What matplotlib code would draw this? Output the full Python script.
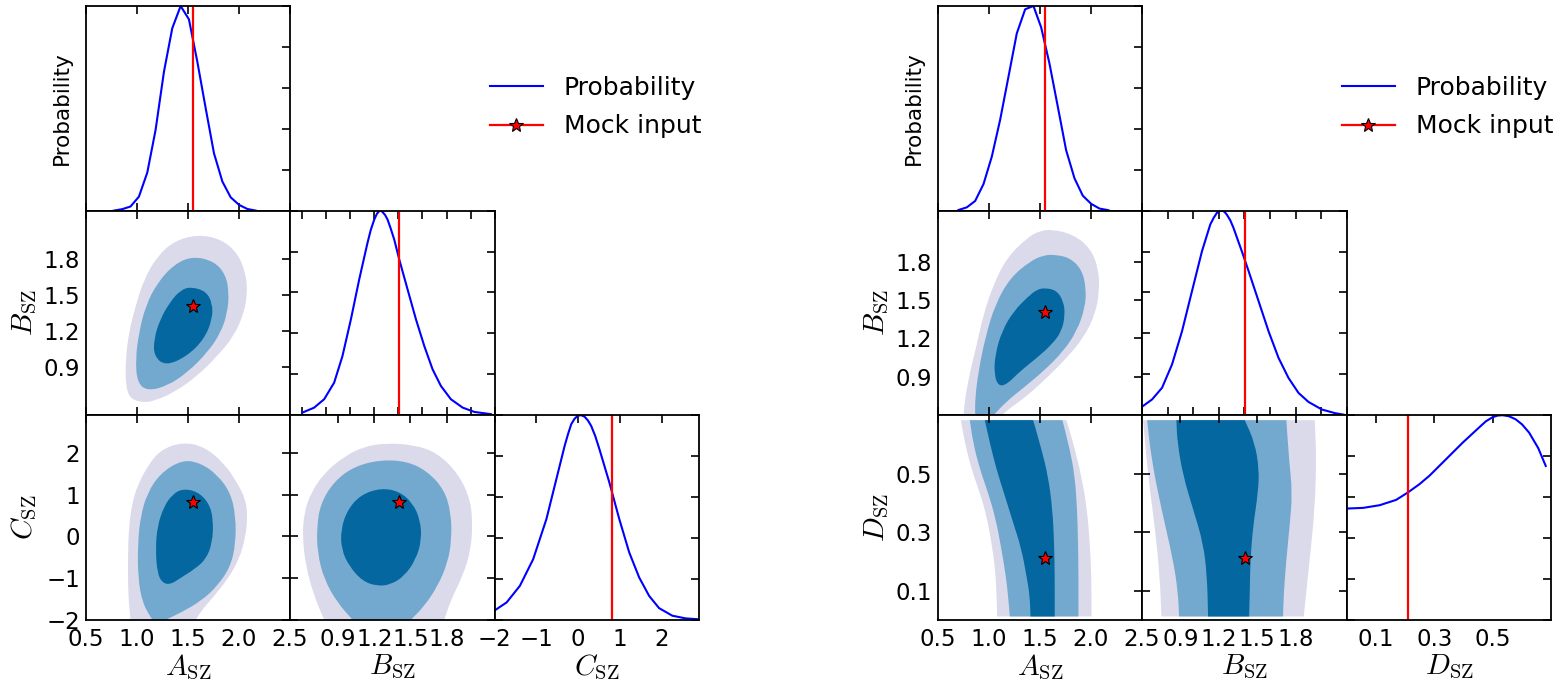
import numpy as np
import matplotlib
matplotlib.use('Agg')
import matplotlib.pyplot as plt
from matplotlib.lines import Line2D
from matplotlib.path import Path
from matplotlib.patches import PathPatch

plt.rcParams['font.family'] = ['DejaVu Sans']
plt.rcParams['mathtext.fontset'] = 'cm'
plt.rcParams['axes.linewidth'] = 1.3

# mock input values
a_true, b_true, c_true, d_true = 1.555, 1.405, 0.81, 0.21

# axis ranges and ticks
a_lim = (0.5, 2.5)
b_lim_left = (0.5, 2.2)
b_lim_right = (0.6, 2.2)
c_lim = (-2.0, 2.9)
d_lim = (0.0, 0.7)
a_ticks = [0.5, 1.0, 1.5, 2.0, 2.5]
b_ticks = [0.9, 1.2, 1.5, 1.8]
b_ticks_1d = [0.6, 0.8, 1.0, 1.2, 1.4, 1.6, 1.8, 2.0, 2.2]
c_ticks = [-2, -1, 0, 1, 2]
d_ticks = [0.1, 0.3, 0.5]
p_ticks = [0.0, 0.2, 0.4, 0.6, 0.8, 1.0]

# 1D marginals (left triangle)
a1l_x = [0.777, 0.859, 0.940, 1.022, 1.104, 1.185, 1.267, 1.348, 1.430, 1.511, 1.593, 1.675,
         1.756, 1.838, 1.919, 2.001, 2.082, 2.164]
a1l_p = [0.0, 0.007, 0.02, 0.068, 0.186, 0.394, 0.679, 0.891, 1.0, 0.935, 0.728, 0.500,
         0.280, 0.142, 0.065, 0.028, 0.008, 0.0]
b1l_x = [0.603, 0.700, 0.783, 0.866, 0.935, 1.005, 1.074, 1.143, 1.170, 1.199, 1.220, 1.240,
         1.255, 1.268, 1.290, 1.310, 1.335, 1.365, 1.407, 1.476, 1.546, 1.615, 1.684, 1.753,
         1.836, 1.934, 2.031, 2.169]
b1l_p = [0.013, 0.037, 0.078, 0.159, 0.289, 0.468, 0.663, 0.842, 0.905, 0.956, 0.983, 0.998,
         1.0, 0.993, 0.978, 0.956, 0.914, 0.859, 0.761, 0.615, 0.468, 0.338, 0.224, 0.143,
         0.078, 0.037, 0.016, 0.005]
c1_x = [-1.992, -1.714, -1.397, -1.079, -0.762, -0.524, -0.325, -0.245, -0.167, -0.090, -0.008,
        0.070, 0.151, 0.230, 0.310, 0.410, 0.508, 0.746, 0.984, 1.222, 1.460, 1.698, 1.937,
        2.254, 2.571, 2.849]
c1_p = [0.047, 0.085, 0.166, 0.296, 0.492, 0.687, 0.850, 0.907, 0.956, 0.982, 0.998,
        1.0, 0.993, 0.975, 0.948, 0.897, 0.834, 0.671, 0.492, 0.329, 0.207, 0.117, 0.057,
        0.020, 0.007, 0.003]

# 1D marginals (right triangle)
a1r_x = [0.705, 0.787, 0.868, 0.950, 1.031, 1.112, 1.194, 1.275, 1.357, 1.438, 1.513, 1.594,
         1.676, 1.757, 1.839, 1.920, 2.002, 2.083, 2.171]
a1r_p = [0.003, 0.016, 0.047, 0.130, 0.264, 0.443, 0.655, 0.866, 0.984, 1.0, 0.896, 0.720,
         0.508, 0.296, 0.158, 0.073, 0.033, 0.010, 0.002]
b1r_x = [0.605, 0.678, 0.756, 0.834, 0.912, 0.990, 1.068, 1.133, 1.160, 1.185, 1.205, 1.224,
         1.243, 1.263, 1.290, 1.315, 1.380, 1.433, 1.511, 1.589, 1.667, 1.745, 1.823, 1.901,
         2.005, 2.109, 2.174]
b1r_p = [0.044, 0.077, 0.134, 0.248, 0.410, 0.606, 0.801, 0.932, 0.965, 0.989, 0.998, 1.0,
         0.995, 0.980, 0.952, 0.915, 0.801, 0.704, 0.557, 0.410, 0.280, 0.182, 0.109, 0.065,
         0.028, 0.010, 0.003]
d1_x = [0.005, 0.056, 0.1125, 0.169, 0.209, 0.249, 0.283, 0.340, 0.397, 0.453, 0.476, 0.499,
        0.516, 0.533, 0.555, 0.578, 0.600, 0.624, 0.655, 0.681]
d1_p = [0.544, 0.547, 0.560, 0.586, 0.622, 0.663, 0.704, 0.785, 0.866, 0.94, 0.970, 0.99,
        0.998, 1.0, 0.995, 0.98, 0.955, 0.915, 0.840, 0.752]

# 2D credible regions (outer, middle, inner), read as outlines
ba_left = [
    [(1.593, 2.001), (1.822, 1.965), (1.985, 1.849), (2.066, 1.683), (2.083, 1.517), (2.050, 1.351),
     (1.952, 1.158), (1.789, 0.992), (1.593, 0.826), (1.365, 0.688), (1.169, 0.619), (1.071, 0.605),
     (0.940, 0.633), (0.892, 0.743), (0.892, 0.964), (0.924, 1.185), (0.989, 1.407), (1.071, 1.628),
     (1.202, 1.821), (1.365, 1.946)],
    [(1.544, 1.821), (1.756, 1.780), (1.870, 1.669), (1.903, 1.517), (1.887, 1.351), (1.822, 1.185),
     (1.691, 1.020), (1.495, 0.854), (1.299, 0.743), (1.104, 0.702), (1.006, 0.771), (0.989, 0.964),
     (1.022, 1.185), (1.087, 1.407), (1.202, 1.600), (1.365, 1.752)],
    [(1.528, 1.567), (1.675, 1.531), (1.740, 1.434), (1.740, 1.296), (1.658, 1.130), (1.495, 0.992),
     (1.283, 0.909), (1.169, 0.992), (1.169, 1.130), (1.228, 1.296), (1.332, 1.448), (1.430, 1.539)],
]
ca_left = [
    [(1.446, 2.255), (1.658, 2.151), (1.854, 1.753), (1.985, 1.275), (2.066, 0.876), (2.083, 0.478),
     (2.066, 0.0), (2.001, -0.558), (1.887, -1.036), (1.756, -1.434), (1.642, -1.753), (1.577, -2.0),
     (0.940, -2.0), (0.918, -1.434), (0.914, -0.558), (0.924, 0.239), (0.957, 0.797), (1.006, 1.195),
     (1.104, 1.673), (1.234, 2.072)],
    [(1.446, 1.833), (1.626, 1.753), (1.789, 1.474), (1.919, 1.036), (1.968, 0.478), (1.968, -0.159),
     (1.919, -0.717), (1.789, -1.195), (1.626, -1.554), (1.430, -1.833), (1.283, -2.0), (1.153, -2.0),
     (1.055, -1.594), (1.012, -0.956), (1.012, -0.159), (1.038, 0.478), (1.104, 1.036), (1.234, 1.514)],
    [(1.446, 1.139), (1.593, 1.076), (1.707, 0.797), (1.750, 0.398), (1.740, -0.159), (1.675, -0.558),
     (1.560, -0.797), (1.430, -0.996), (1.332, -1.155), (1.250, -1.116), (1.202, -0.876), (1.185, -0.319),
     (1.202, 0.239), (1.267, 0.717), (1.348, 0.996)],
]
cb_left = [
    [(1.296, 2.231), (1.532, 2.191), (1.726, 1.992), (1.892, 1.514), (1.989, 0.956), (2.017, 0.398),
     (2.003, -0.319), (1.934, -0.956), (1.837, -1.514), (1.781, -2.0), (0.783, -2.0), (0.700, -1.434),
     (0.630, -0.717), (0.603, 0.0), (0.616, 0.558), (0.672, 1.036), (0.783, 1.514), (0.949, 1.912),
     (1.116, 2.151)],
    [(1.254, 1.833), (1.476, 1.793), (1.642, 1.554), (1.781, 1.116), (1.837, 0.558), (1.842, -0.080),
     (1.809, -0.637), (1.726, -1.195), (1.615, -1.673), (1.504, -2.0), (1.019, -2.0), (0.894, -1.594),
     (0.783, -1.036), (0.727, -0.398), (0.722, 0.239), (0.755, 0.797), (0.866, 1.315), (1.032, 1.673)],
    [(1.254, 1.155), (1.407, 1.076), (1.518, 0.797), (1.581, 0.398), (1.593, -0.080), (1.545, -0.558),
     (1.448, -0.956), (1.337, -1.155), (1.227, -1.195), (1.102, -1.076), (0.991, -0.717), (0.927, -0.319),
     (0.921, 0.159), (0.977, 0.637), (1.088, 0.996)],
]
ba_right = [
    [(1.633, 2.052), (1.829, 2.012), (1.992, 1.908), (2.073, 1.752), (2.083, 1.569), (2.041, 1.387),
     (1.927, 1.205), (1.764, 1.048), (1.568, 0.892), (1.373, 0.749), (1.210, 0.657), (1.129, 0.6),
     (0.754, 0.6), (0.770, 0.736), (0.819, 0.944), (0.884, 1.152), (0.949, 1.387), (1.047, 1.622),
     (1.177, 1.830), (1.373, 1.986), (1.503, 2.044)],
    [(1.650, 1.856), (1.796, 1.830), (1.910, 1.739), (1.953, 1.596), (1.943, 1.439), (1.861, 1.257),
     (1.731, 1.100), (1.536, 0.944), (1.340, 0.814), (1.177, 0.709), (1.047, 0.6), (0.868, 0.6),
     (0.868, 0.736), (0.901, 0.944), (0.966, 1.205), (1.063, 1.465), (1.210, 1.674), (1.405, 1.804),
     (1.536, 1.851)],
    [(1.552, 1.596), (1.666, 1.575), (1.731, 1.491), (1.747, 1.387), (1.715, 1.257), (1.617, 1.152),
     (1.471, 1.048), (1.308, 0.944), (1.177, 0.840), (1.096, 0.827), (1.054, 0.918), (1.063, 1.074),
     (1.129, 1.257), (1.243, 1.413), (1.389, 1.530), (1.471, 1.582)],
]
da_right = [
    [(0.728, 0.683), (0.767, 0.606), (0.832, 0.515), (0.914, 0.435), (0.979, 0.356), (1.028, 0.264),
     (1.060, 0.185), (1.076, 0.105), (1.083, 0.0114), (2.005, 0.0114), (2.005, 0.150), (1.988, 0.264),
     (1.962, 0.378), (1.907, 0.492), (1.826, 0.606), (1.760, 0.683)],
    [(0.816, 0.683), (0.848, 0.606), (0.914, 0.515), (0.995, 0.435), (1.070, 0.344), (1.125, 0.242),
     (1.168, 0.150), (1.190, 0.082), (1.207, 0.0114), (1.878, 0.0114), (1.878, 0.150), (1.874, 0.264),
     (1.865, 0.378), (1.842, 0.492), (1.793, 0.584), (1.721, 0.683)],
    [(0.962, 0.683), (1.011, 0.606), (1.076, 0.515), (1.158, 0.424), (1.239, 0.333), (1.321, 0.242),
     (1.370, 0.150), (1.402, 0.082), (1.409, 0.0114), (1.646, 0.0114), (1.646, 0.150), (1.640, 0.264),
     (1.624, 0.378), (1.581, 0.492), (1.516, 0.584), (1.435, 0.683)],
]
db_right = [
    [(0.608, 0.683), (0.647, 0.492), (0.699, 0.321), (0.738, 0.150), (0.751, 0.0114), (1.864, 0.0114),
     (1.911, 0.207), (1.950, 0.378), (1.963, 0.549), (1.950, 0.683)],
    [(0.639, 0.683), (0.673, 0.549), (0.751, 0.378), (0.842, 0.207), (0.881, 0.093), (0.889, 0.0114),
     (1.702, 0.0114), (1.708, 0.093), (1.728, 0.207), (1.754, 0.321), (1.775, 0.435), (1.749, 0.549),
     (1.728, 0.683)],
    [(0.868, 0.683), (0.876, 0.606), (0.921, 0.492), (0.999, 0.378), (1.077, 0.264), (1.108, 0.150),
     (1.116, 0.0114), (1.437, 0.0114), (1.442, 0.093), (1.447, 0.207), (1.468, 0.321), (1.507, 0.435),
     (1.515, 0.515), (1.481, 0.606), (1.403, 0.683)],
]

level_colors = ['#dadaeb', '#74a9cf', '#0567a0']

W, H = 1564, 685
fig = plt.figure(figsize=(W / 100, H / 100), dpi=100)
S = 204.6


def panel(x0, y0, col, row):
    return fig.add_axes([(x0 + col * S) / W, 1 - (y0 + (row + 1) * S) / H, S / W, S / H])


def style(ax, xlim, ylim, xticks, yticks, first_col, bottom_row, ylabels=True):
    ax.set_xticks(xticks)
    ax.set_yticks(yticks)
    ax.set_xlim(xlim)
    ax.set_ylim(ylim)
    ax.tick_params(direction='in', top=True, right=True, left=not first_col, bottom=not bottom_row,
                   labelleft=first_col and ylabels, labelbottom=bottom_row,
                   length=6, width=1.2, labelsize=16.5)
    ax.tick_params(axis='x', pad=6)
    ax.tick_params(axis='y', pad=4)


def outline_path(poly):
    # read outline used as control polygon of a closed quadratic spline;
    # vertices on a flat grid edge are kept as sharp corners
    pts = np.array(poly, dtype=float)
    n = len(pts)
    corner = [pts[i, 1] == pts[(i - 1) % n, 1] or pts[i, 1] == pts[(i + 1) % n, 1] for i in range(n)]
    ctrl = []
    for i in range(n):
        ctrl.append(pts[i])
        if corner[i]:
            ctrl.append(pts[i])
    ctrl = np.array(ctrl)
    mids = (ctrl + np.roll(ctrl, -1, axis=0)) / 2
    verts = [mids[-1]]
    codes = [Path.MOVETO]
    for i in range(len(ctrl)):
        verts += [ctrl[i], mids[i]]
        codes += [Path.CURVE3, Path.CURVE3]
    return Path(verts, codes)


def draw_1d(ax, x, p, true):
    ax.plot(x, p, color='b', lw=1.5)
    ax.axvline(true, color='r', lw=1.6)


def draw_2d(ax, levels, tx, ty):
    for poly, col in zip(levels, level_colors):
        ax.add_patch(PathPatch(outline_path(poly), facecolor=col, edgecolor='none', lw=0))
    ax.plot(tx, ty, '*', color='r', mec='k', mew=0.8, ms=10)


def triangle(x0, names, lims, ticks, trues, one_d, two_d):
    axes = {}
    n = 3
    for row in range(n):
        for col in range(row + 1):
            ax = panel(x0, 6, col, row)
            bottom = row == n - 1
            if row == col:
                x, p = one_d[row]
                draw_1d(ax, x, p, trues[row])
                xt = ticks[row] if (bottom or row == 0) else b_ticks_1d
                style(ax, lims[row], (0, 1), xt, p_ticks, col == 0, bottom, ylabels=False)
            else:
                draw_2d(ax, two_d[(row, col)], trues[col], trues[row])
                style(ax, lims[col], lims[row], ticks[col], ticks[row], col == 0, bottom)
            if col == 0:
                if row == 0:
                    ax.set_ylabel('Probability', fontsize=15.5)
                    ax.yaxis.set_label_coords(-0.065, 0.5)
                else:
                    ax.set_ylabel(names[row], fontsize=21)
                    ax.yaxis.set_label_coords(-0.225, 0.5)
            if bottom:
                ax.set_xlabel(names[col], fontsize=21)
                ax.xaxis.set_label_coords(0.5, -0.16)
            axes[(row, col)] = ax
    handles = [Line2D([], [], color='b', lw=1.5),
               Line2D([], [], color='r', lw=1.6, marker='*', mfc='r', mec='k', mew=0.8, ms=10)]
    axes[(0, 0)].legend(handles, ['Probability', 'Mock input'], loc='upper left',
                        bbox_to_anchor=((x0 + 404.5) / W, 1 - 76 / H),
                        bbox_transform=fig.transFigure, frameon=False, borderpad=0,
                        borderaxespad=0, handlelength=2.1, handletextpad=0.85,
                        labelspacing=0.58, fontsize=18)
    return axes


triangle(85.5,
         [r'$A_{\rm SZ}$', r'$B_{\rm SZ}$', r'$C_{\rm SZ}$'],
         [a_lim, b_lim_left, c_lim], [a_ticks, b_ticks, c_ticks],
         [a_true, b_true, c_true],
         [(a1l_x, a1l_p), (b1l_x, b1l_p), (c1_x, c1_p)],
         {(1, 0): ba_left, (2, 0): ca_left, (2, 1): cb_left})

triangle(937.5,
         [r'$A_{\rm SZ}$', r'$B_{\rm SZ}$', r'$D_{\rm SZ}$'],
         [a_lim, b_lim_right, d_lim], [a_ticks, b_ticks, d_ticks],
         [a_true, b_true, d_true],
         [(a1r_x, a1r_p), (b1r_x, b1r_p), (d1_x, d1_p)],
         {(1, 0): ba_right, (2, 0): da_right, (2, 1): db_right})

fig.savefig('out.png', dpi=100)
